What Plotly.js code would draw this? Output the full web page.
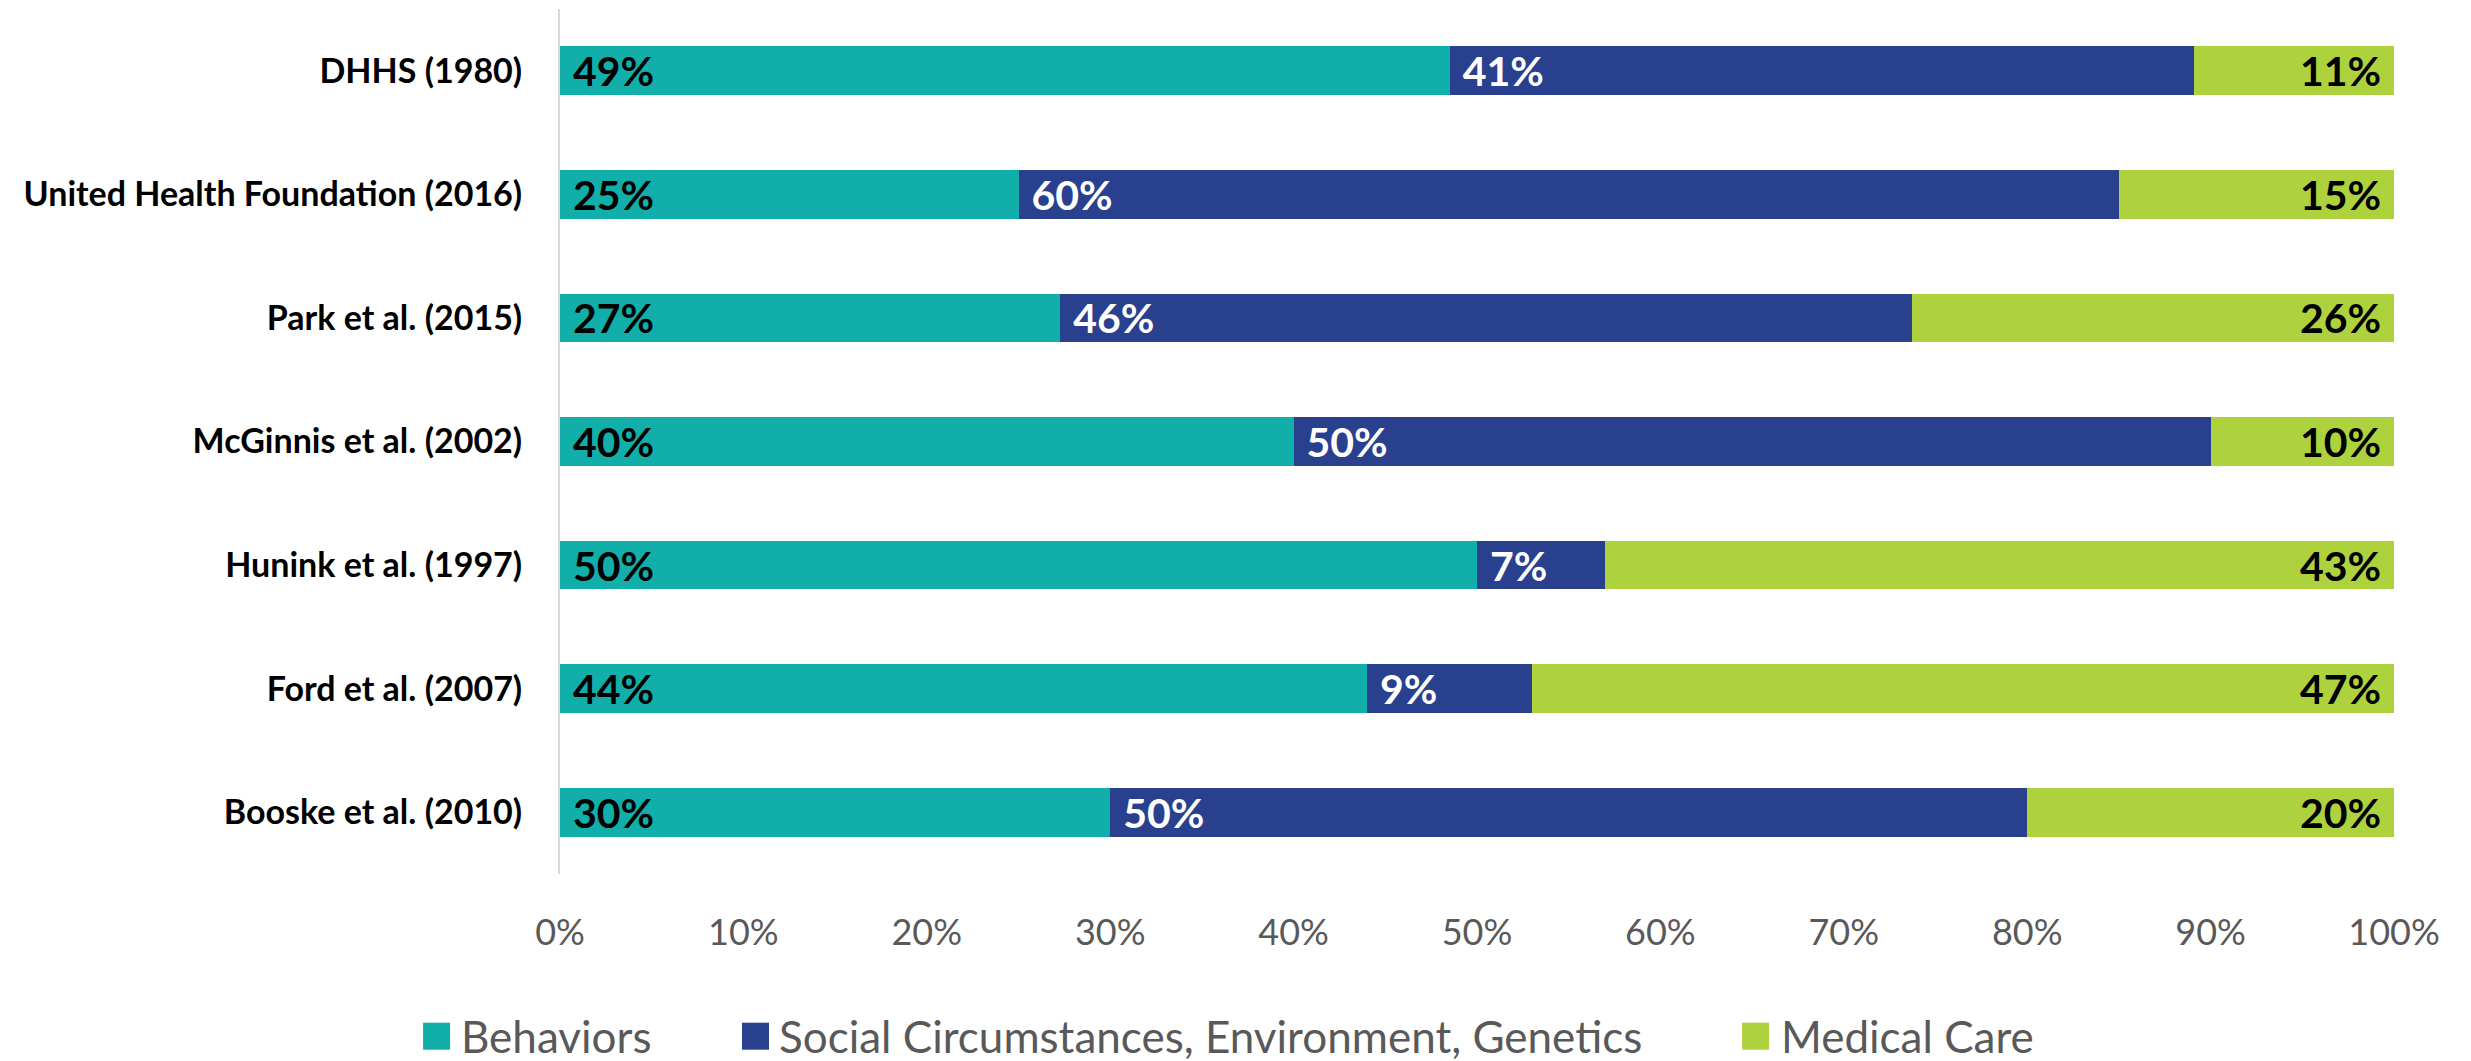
<!DOCTYPE html>
<html>
<head>
<meta charset="utf-8">
<script src="https://cdn.plot.ly/plotly-3.0.1.min.js"></script>
<style>
  html, body { margin: 0; padding: 0; background: #ffffff; }
  #chart { width: 2471px; height: 1061px; }
</style>
</head>
<body>
<div id="chart"></div>
<script>
// ---- data ----
const categories = [
  "DHHS (1980)",
  "United Health Foundation (2016)",
  "Park et al. (2015)",
  "McGinnis et al. (2002)",
  "Hunink et al. (1997)",
  "Ford et al. (2007)",
  "Booske et al. (2010)"
];
const seriesNames = ["Behaviors", "Social Circumstances, Environment, Genetics", "Medical Care"];
const behaviors = [49, 25, 27, 40, 50, 44, 30];
const social    = [41, 60, 46, 50, 7, 9, 50];
const medical   = [11, 15, 26, 10, 43, 47, 20];
const tickValues = [0, 10, 20, 30, 40, 50, 60, 70, 80, 90, 100];
const tickLabels = ["0%", "10%", "20%", "30%", "40%", "50%", "60%", "70%", "80%", "90%", "100%"];

// ---- styles ----
const colors = ["#12AFAA", "#28408E", "#AED23E"];
const labelColors = ["#000000", "#ffffff", "#000000"];
const anchors = ["start", "start", "end"];
const FONT = "Lato, 'Open Sans', 'DejaVu Sans', sans-serif";
const PAD = "\u00a0";

const seriesValues = [behaviors, social, medical];
const traces = seriesValues.map((vals, i) => ({
  type: "bar",
  orientation: "h",
  name: seriesNames[i],
  y: categories,
  x: vals,
  text: vals.map(v => anchors[i] === "start" ? PAD + v + "%" : v + "%" + PAD),
  textposition: "inside",
  insidetextanchor: anchors[i],
  textangle: 0,
  constraintext: "none",
  insidetextfont: { family: FONT, size: 41, color: labelColors[i], weight: 700 },
  marker: { color: colors[i], line: { width: 0 } },
  hoverinfo: "none",
  showlegend: false
}));

// custom legend (square keys + labels) placed below the axis
const legendSquareX = [-0.0673, 0.1066, 0.6519];
const legendTextX = [-0.0545, 0.1190, 0.6650];
const legendY = -0.1875;
const shapes = seriesNames.map((n, i) => ({
  type: "rect",
  xref: "paper", yref: "paper",
  xsizemode: "pixel", ysizemode: "pixel",
  xanchor: legendSquareX[i], yanchor: legendY,
  x0: -13.5, x1: 13.5, y0: -13.5, y1: 13.5,
  fillcolor: colors[i],
  line: { width: 0 }
}));
const annotations = seriesNames.map((n, i) => ({
  xref: "paper", yref: "paper",
  x: legendTextX[i], y: legendY,
  xanchor: "left", yanchor: "middle",
  borderpad: 0,
  text: n,
  showarrow: false,
  font: { family: FONT, size: 44, color: "#595959" }
}));

const layout = {
  width: 2471,
  height: 1061,
  margin: { l: 560, r: 77, t: 9, b: 187 },
  paper_bgcolor: "#ffffff",
  plot_bgcolor: "#ffffff",
  barmode: "stack",
  barnorm: "percent",
  bargap: 0.605,
  showlegend: false,
  font: { family: FONT },
  xaxis: {
    range: [0, 100],
    tickvals: tickValues,
    ticktext: tickLabels,
    showgrid: false,
    zeroline: false,
    showline: false,
    ticks: "",
    ticklabelstandoff: 34,
    tickfont: { family: FONT, size: 36, color: "#595959" },
    fixedrange: true
  },
  yaxis: {
    type: "category",
    autorange: "reversed",
    showgrid: false,
    zeroline: false,
    showline: true,
    linecolor: "#D9D9D9",
    linewidth: 2,
    ticks: "",
    ticklabelstandoff: 29,
    tickfont: { family: FONT, size: 34, color: "#000000", weight: 700 },
    fixedrange: true
  },
  shapes: shapes,
  annotations: annotations
};

Plotly.newPlot("chart", traces, layout, { displayModeBar: false, staticPlot: true });
</script>
</body>
</html>
